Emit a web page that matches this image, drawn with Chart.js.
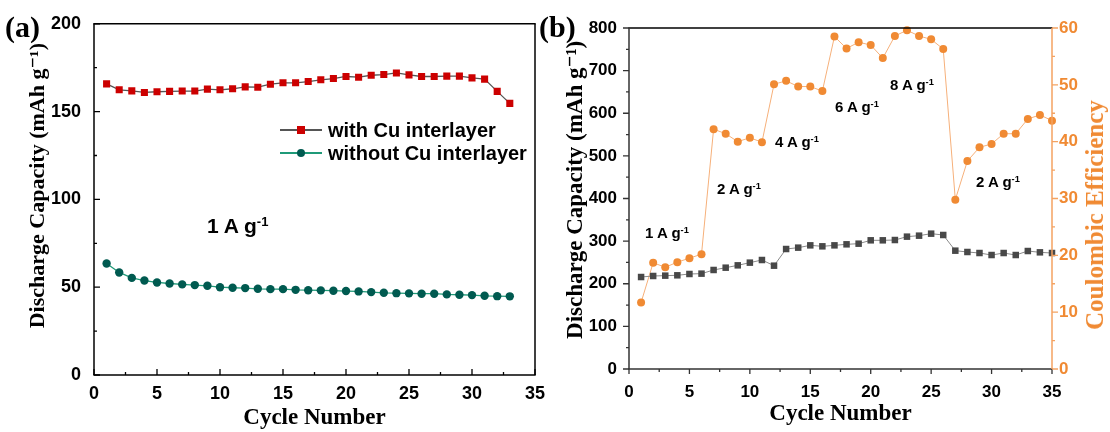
<!DOCTYPE html>
<html>
<head>
<meta charset="utf-8">
<script src="https://cdn.jsdelivr.net/npm/chart.js"></script>
<style>
  body { margin: 0; background: #fff; }
  #wrap { position: relative; width: 1110px; height: 432px; overflow: hidden; }
  canvas { position: absolute; top: 0; }
  .tag { position: absolute; font: bold 30px 'Liberation Serif', serif; color: #000; line-height: 30px; }
  .note { position: absolute; font-family: 'Liberation Sans', Arial, sans-serif; font-weight: bold; color: #000; white-space: nowrap; }
  .note sup { font-size: 62%; vertical-align: 0; position: relative; top: -0.55em; }
  .leg { position: absolute; left: 280px; font: bold 20px 'Liberation Sans', Arial, sans-serif; height: 22px; line-height: 22px; white-space: nowrap; }
  .leg .ln { position: absolute; left: 0; top: 10px; width: 42px; height: 1.5px; }
  .leg .mk { position: absolute; }
  .leg .tx { position: absolute; left: 48px; top: 0; }
  .rtitle { position: absolute; left: 1095px; top: 215px; width: 0; height: 0; }
  .rtitle span { position: absolute; transform: translate(-50%, -50%) rotate(-90deg); white-space: nowrap;
    font: bold 25px 'Liberation Serif', serif; color: #f08a33; }
</style>
</head>
<body>
<div id="wrap">
  <canvas id="chartA" width="555" height="432" style="left:0;width:555px;height:432px"></canvas>
  <canvas id="chartB" width="555" height="432" style="left:555px;width:555px;height:432px"></canvas>

  <div class="tag" style="left:5px;top:12px">(a)</div>
  <div class="tag" style="left:539px;top:12px">(b)</div>

  <div class="leg" style="top:119px">
    <span class="ln" style="background:#555"></span>
    <span class="mk" style="left:17px;top:7px;width:8px;height:8px;background:#cc0000"></span>
    <span class="tx">with Cu interlayer</span>
  </div>
  <div class="leg" style="top:142px">
    <span class="ln" style="background:#1f9a78"></span>
    <span class="mk" style="left:17px;top:7px;width:8px;height:8px;border-radius:50%;background:#005a50"></span>
    <span class="tx">without Cu interlayer</span>
  </div>

  <div class="note" style="left:207px;top:214px;font-size:21px">1 A g<sup>-1</sup></div>

  <div class="note" style="left:645px;top:224px;font-size:15px">1 A g<sup>-1</sup></div>
  <div class="note" style="left:717px;top:180px;font-size:15px">2 A g<sup>-1</sup></div>
  <div class="note" style="left:775px;top:133px;font-size:15px">4 A g<sup>-1</sup></div>
  <div class="note" style="left:835px;top:98px;font-size:15px">6 A g<sup>-1</sup></div>
  <div class="note" style="left:890px;top:76px;font-size:15px">8 A g<sup>-1</sup></div>
  <div class="note" style="left:976px;top:173px;font-size:15px">2 A g<sup>-1</sup></div>

  <div class="rtitle"><span>Coulombic Efficiency</span></div>
</div>

<script>
// panel (a) data
const cyclesA = [1, 2, 3, 4, 5, 6, 7, 8, 9, 10, 11, 12, 13, 14, 15, 16, 17, 18, 19, 20, 21, 22, 23, 24, 25, 26, 27, 28, 29, 30, 31, 32, 33];
const capWithCu = [165.8, 162.4, 161.8, 160.9, 161.3, 161.5, 161.7, 161.7, 162.8, 162.4, 163.0, 164.1, 163.9, 165.6, 166.4, 166.4, 167.1, 168.1, 168.8, 170.0, 169.6, 170.7, 171.1, 172.0, 170.9, 170.0, 170.0, 170.2, 170.2, 169.2, 168.5, 161.5, 154.7];
const capWithoutCu = [63.5, 58.4, 55.3, 53.8, 52.7, 52.1, 51.6, 51.2, 50.8, 50.0, 49.7, 49.5, 49.1, 48.9, 48.9, 48.5, 48.3, 48.2, 48.0, 47.8, 47.6, 47.2, 46.8, 46.6, 46.5, 46.3, 46.3, 45.9, 45.7, 45.5, 45.1, 44.9, 44.8];

// panel (b) data
const cyclesB = [1, 2, 3, 4, 5, 6, 7, 8, 9, 10, 11, 12, 13, 14, 15, 16, 17, 18, 19, 20, 21, 22, 23, 24, 25, 26, 27, 28, 29, 30, 31, 32, 33, 34, 35];
const capRate = [215.8, 218.2, 219.0, 219.8, 222.9, 223.7, 232.3, 237.7, 243.2, 249.5, 255.7, 242.4, 281.5, 284.7, 290.1, 287.8, 290.1, 292.5, 294.0, 301.9, 301.9, 302.6, 310.5, 312.8, 317.5, 314.4, 277.6, 274.5, 272.1, 267.4, 272.1, 267.4, 276.8, 273.7, 272.1];
const coulEff = [11.7, 18.7, 17.9, 18.8, 19.5, 20.2, 42.2, 41.4, 40.0, 40.7, 39.9, 50.1, 50.7, 49.7, 49.7, 48.9, 58.5, 56.4, 57.5, 57.0, 54.7, 58.6, 59.6, 58.6, 58.0, 56.3, 29.8, 36.6, 39.0, 39.6, 41.4, 41.4, 44.0, 44.7, 43.7];

const sans = "'Liberation Sans', Arial, sans-serif";
const serif = "'Liberation Serif', 'DejaVu Serif', serif";
const orange = '#f08a33';

function pts(xs, ys) {
  return xs.map(function (x, i) { return { x: x, y: ys[i] }; });
}

// frame lines + tick marks drawn from the scales
const axisMarks = {
  id: 'axisMarks',
  afterDraw(chart, args, opts) {
    const ctx = chart.ctx;
    const a = chart.chartArea;
    ctx.save();
    (opts.lines || []).forEach(function (l) {
      ctx.strokeStyle = l.color;
      ctx.lineWidth = l.width;
      ctx.beginPath();
      if (l.side === 'top') { ctx.moveTo(a.left - 0.7, a.top); ctx.lineTo(a.right + 0.7, a.top); }
      if (l.side === 'bottom') { ctx.moveTo(a.left - 0.7, a.bottom); ctx.lineTo(a.right + 0.7, a.bottom); }
      if (l.side === 'left') { ctx.moveTo(a.left, a.top); ctx.lineTo(a.left, a.bottom); }
      if (l.side === 'right') { ctx.moveTo(a.right, a.top); ctx.lineTo(a.right, a.bottom); }
      ctx.stroke();
    });
    (opts.ticks || []).forEach(function (t) {
      const sc = chart.scales[t.scale];
      const vals = sc.ticks.map(function (k) { return k.value; });
      const step = vals[1] - vals[0];
      const marks = [];
      vals.forEach(function (v) {
        marks.push([v, t.major]);
        if (v + step / 2 <= sc.max) marks.push([v + step / 2, t.minor]);
      });
      ctx.strokeStyle = t.color;
      ctx.lineWidth = t.width || 1.3;
      ctx.beginPath();
      marks.forEach(function (m) {
        const p = sc.getPixelForValue(m[0]);
        const len = m[1];
        const dir = t.inward ? -1 : 1;
        if (t.side === 'left') { ctx.moveTo(a.left, p); ctx.lineTo(a.left - dir * len, p); }
        if (t.side === 'right') { ctx.moveTo(a.right, p); ctx.lineTo(a.right + dir * len, p); }
        if (t.side === 'bottom') { ctx.moveTo(p, a.bottom); ctx.lineTo(p, a.bottom + dir * len); }
      });
      ctx.stroke();
    });
    ctx.restore();
  }
};

new Chart(document.getElementById('chartA'), {
  type: 'line',
  data: {
    datasets: [
      {
        label: 'with Cu interlayer',
        data: pts(cyclesA, capWithCu),
        borderColor: '#555555',
        borderWidth: 1.3,
        pointStyle: 'rect',
        pointRadius: 5,
        pointBackgroundColor: '#cc0000',
        pointBorderWidth: 0,
        tension: 0
      },
      {
        label: 'without Cu interlayer',
        data: pts(cyclesA, capWithoutCu),
        borderColor: '#1f9a78',
        borderWidth: 1.3,
        pointStyle: 'circle',
        pointRadius: 4.2,
        pointBackgroundColor: '#005a50',
        pointBorderWidth: 0,
        tension: 0
      }
    ]
  },
  options: {
    responsive: false,
    animation: false,
    layout: { padding: { top: 22, right: 20, left: 0, bottom: 0 } },
    plugins: {
      legend: { display: false },
      tooltip: { enabled: false },
      axisMarks: {
        lines: [
          { side: 'top', color: '#000', width: 1.5 },
          { side: 'bottom', color: '#000', width: 1.5 },
          { side: 'left', color: '#000', width: 1.5 },
          { side: 'right', color: '#000', width: 1.5 }
        ],
        ticks: [
          { scale: 'x', side: 'bottom', inward: true, major: 6, minor: 3, color: '#000' },
          { scale: 'y', side: 'left', inward: true, major: 6, minor: 3, color: '#000' }
        ]
      }
    },
    scales: {
      x: {
        type: 'linear', min: 0, max: 35,
        grid: { display: false, drawTicks: false },
        border: { display: false },
        ticks: { stepSize: 5, padding: 8, color: '#000', font: { family: sans, size: 18, weight: 'bold' } },
        title: { display: true, text: 'Cycle Number', color: '#000', padding: { top: 0, bottom: 0 }, font: { family: serif, size: 23, weight: 'bold' } },
        afterFit: function (s) { s.height = 57; }
      },
      y: {
        min: 0, max: 200,
        grid: { display: false, drawTicks: false },
        border: { display: false },
        ticks: { stepSize: 50, padding: 13, color: '#000', font: { family: sans, size: 18, weight: 'bold' } },
        title: { display: true, text: '     Discharge Capacity (mAh g⁻¹)', color: '#000', padding: { top: 25, bottom: 0 }, font: { family: serif, size: 22, weight: 'bold' } },
        afterFit: function (s) { s.width = 94; }
      }
    }
  },
  plugins: [axisMarks]
});

new Chart(document.getElementById('chartB'), {
  type: 'line',
  data: {
    datasets: [
      {
        label: 'Discharge Capacity',
        data: pts(cyclesB, capRate),
        yAxisID: 'y',
        borderColor: '#8a8a8a',
        borderWidth: 1,
        pointStyle: 'rect',
        pointRadius: 4.6,
        pointBackgroundColor: '#484848',
        pointBorderWidth: 0,
        tension: 0,
        clip: false
      },
      {
        label: 'Coulombic Efficiency',
        data: pts(cyclesB, coulEff),
        yAxisID: 'y2',
        borderColor: '#f6b07a',
        borderWidth: 1,
        pointStyle: 'circle',
        pointRadius: 4,
        pointBackgroundColor: orange,
        pointBorderWidth: 0,
        tension: 0,
        clip: false
      }
    ]
  },
  options: {
    responsive: false,
    animation: false,
    layout: { padding: { top: 28, right: 0, left: 0, bottom: 0 } },
    plugins: {
      legend: { display: false },
      tooltip: { enabled: false },
      axisMarks: {
        lines: [
          { side: 'top', color: '#000', width: 1.5 },
          { side: 'bottom', color: '#333', width: 1.5 },
          { side: 'left', color: '#333', width: 1.5 },
          { side: 'right', color: '#f4a261', width: 1.5 }
        ],
        ticks: [
          { scale: 'x', side: 'bottom', inward: false, major: 5, minor: 3, color: '#333' },
          { scale: 'y', side: 'left', inward: false, major: 6, minor: 3, color: '#333' },
          { scale: 'y2', side: 'right', inward: false, major: 6, minor: 3, color: '#f4a261' }
        ]
      }
    },
    scales: {
      x: {
        type: 'linear', min: 0, max: 35,
        grid: { display: false, drawTicks: false },
        border: { display: false },
        ticks: { stepSize: 5, padding: 13, color: '#000', font: { family: sans, size: 17, weight: 'bold' } },
        title: { display: true, text: 'Cycle Number', color: '#000', padding: { top: 0, bottom: 4 }, font: { family: serif, size: 23, weight: 'bold' } },
        afterFit: function (s) { s.height = 63; }
      },
      y: {
        position: 'left', min: 0, max: 800,
        grid: { display: false, drawTicks: false },
        border: { display: false },
        ticks: { stepSize: 100, padding: 12, color: '#000', font: { family: sans, size: 17, weight: 'bold' } },
        title: { display: true, text: '   Discharge Capacity (mAh g⁻¹)', color: '#000', padding: { top: 7, bottom: 0 }, font: { family: serif, size: 23, weight: 'bold' } },
        afterFit: function (s) { s.width = 74; }
      },
      y2: {
        position: 'right', min: 0, max: 60,
        grid: { display: false, drawTicks: false },
        border: { display: false },
        ticks: { stepSize: 10, padding: 7, color: orange, font: { family: sans, size: 17, weight: 'bold' } },
        title: { display: false },
        afterFit: function (s) { s.width = 58; }
      }
    }
  },
  plugins: [axisMarks]
});
</script>
</body>
</html>
